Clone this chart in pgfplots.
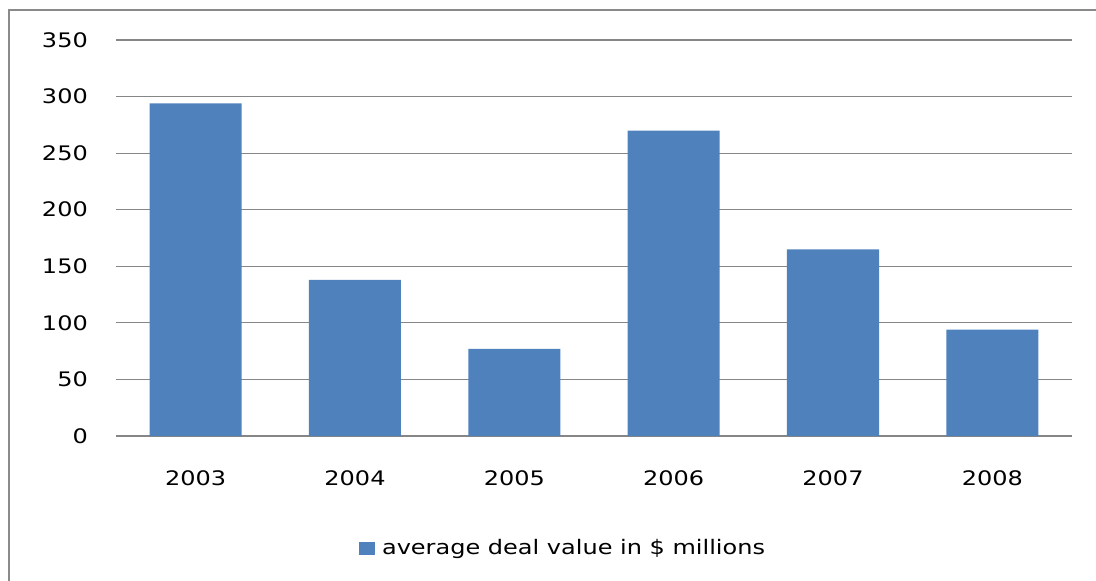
\documentclass[border=0pt]{standalone}
\usepackage{pgfplots}
\pgfplotsset{compat=1.18}
\usepackage{fontspec}
\setmainfont{DejaVu Sans}[FakeStretch=1.2]
\definecolor{barblue}{HTML}{4F81BD}
\definecolor{gridgray}{HTML}{868686}
\definecolor{framegray}{HTML}{8A8A8A}
\begin{document}
\fontsize{20pt}{24pt}\selectfont
\begin{tikzpicture}[x=1pt,y=1pt]
\useasboundingbox (-116,-145) rectangle (980,436);
\clip (-116,-145) rectangle (980,436);
\draw[framegray, line width=2pt] (-107,-200) -- (-107,426) -- (1000,426);
\begin{axis}[
  at={(0,0)}, anchor=south west,
  scale only axis, width=956pt, height=396pt,
  xmin=-0.5, xmax=5.5, ymin=0, ymax=350,
  ybar, bar width=92pt,
  xtick={0,1,2,3,4,5},
  xticklabels={2003,2004,2005,2006,2007,2008},
  ytick={0,50,100,150,200,250,300,350},
  ymajorgrids, grid style={gridgray, line width=1.2pt},
  axis line style={draw=none},
  major tick length=0pt,
  tick label style={font=\fontsize{20pt}{24pt}\selectfont},
  /pgf/number format/assume math mode=true,
  yticklabel style={anchor=east, inner sep=0pt, xshift=-28pt},
  xticklabel style={anchor=north, inner sep=0pt, yshift=-34pt},
  legend style={at={(0.4676,-0.283)}, anchor=center, draw=none, fill=none,
    font=\fontsize{20pt}{24pt}\selectfont, inner sep=0pt},
  legend image code/.code={\fill[barblue] (0pt,-6.5pt) rectangle (16pt,6.5pt);},
]
\addplot[fill=barblue, draw=none] coordinates {(0,294) (1,138) (2,77) (3,270) (4,165) (5,94)};
\addlegendentry{\hspace{5pt}average deal value in \$ millions}
\end{axis}
\end{tikzpicture}
\end{document}
